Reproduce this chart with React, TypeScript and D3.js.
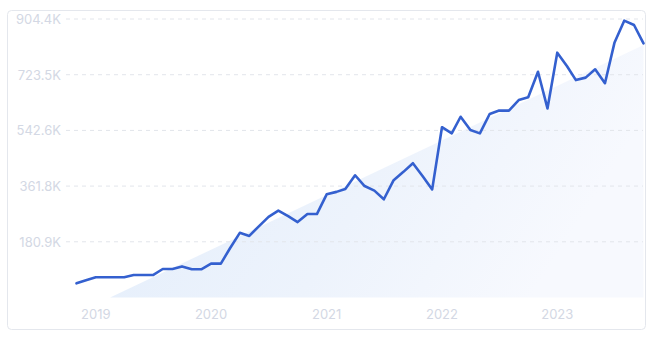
import React from "react";
import * as d3 from "d3";

// Monthly values, Nov 2018 .. Oct 2023
const startMonth = new Date(2018, 10, 1);
const values: number[] = [
  46000, 56000, 65600, 65600, 65600, 65600, 73000, 73000, 73000, 92500,
  92500, 101000, 91500, 91500, 110000, 110000, 160000, 210000, 200000, 232000,
  262000, 282000, 264000, 245000, 271000, 271000, 335000, 343000, 352000, 397000,
  362000, 347000, 319000, 381000, 408000, 436000, 394000, 351000, 553000, 533000,
  587000, 544000, 533000, 596000, 607000, 607000, 641000, 650000, 733000, 614000,
  795000, 751000, 706000, 714000, 741000, 696000, 827000, 899000, 885000, 825000,
];
const yTicks: number[] = [180900, 361800, 542600, 723500, 904400];
const yTickLabels: string[] = ["180.9K", "361.8K", "542.6K", "723.5K", "904.4K"];
const xTickYears: number[] = [2019, 2020, 2021, 2022, 2023];
// decorative trend band: (month index, value)
const trendIdx: number[] = [3.5, 59];
const trendVal: number[] = [0, 820000];

const W = 658;
const H = 338;

export default function App() {
  const dates = values.map((_, i) => d3.timeMonth.offset(startMonth, i));
  const x = d3
    .scaleTime()
    .domain([dates[0], dates[dates.length - 1]])
    .range([76.5, 643.5]);
  const xi = d3.scaleLinear().domain([0, values.length - 1]).range(x.range());
  const y = d3.scaleLinear().domain([0, 904400]).range([297.5, 19]);

  const line = d3
    .line<number>()
    .x((_, i) => x(dates[i]))
    .y((d) => y(d))
    .curve(d3.curveLinear);

  const tx0 = xi(trendIdx[0]);
  const tx1 = xi(trendIdx[1]);
  const trianglePath = `M${tx0},${y(trendVal[0])}L${tx1},${y(trendVal[1])}L${tx1},${y(0)}Z`;

  const font = "Inter, 'Noto Sans', sans-serif";

  return (
    <svg
      width={W}
      height={H}
      style={{ position: "absolute", left: 0, top: 0, background: "#fff" }}
    >
      <defs>
        <linearGradient id="tri" x1="0" y1="0" x2="1" y2="0.3">
          <stop offset="0%" stopColor="#e2edfb" />
          <stop offset="60%" stopColor="#edf3fc" />
          <stop offset="100%" stopColor="#f7f9fe" />
        </linearGradient>
      </defs>
      <rect
        x={7.5}
        y={10.5}
        width={638}
        height={319}
        rx={4}
        fill="#fff"
        stroke="#e4e7ed"
      />
      <path d={trianglePath} fill="url(#tri)" />
      {yTicks.map((t, i) => (
        <g key={t}>
          <line
            x1={66}
            x2={643}
            y1={y(t)}
            y2={y(t)}
            stroke="#e2e5eb"
            strokeDasharray="4 4"
          />
          <text
            x={61}
            y={y(t)}
            textAnchor="end"
            dominantBaseline="central"
            fontFamily={font}
            fontSize={13}
            fill="#d3d8e4"
          >
            {yTickLabels[i]}
          </text>
        </g>
      ))}
      {xTickYears.map((yr) => (
        <text
          key={yr}
          x={x(new Date(yr, 0, 1))}
          y={314}
          textAnchor="middle"
          dominantBaseline="central"
          fontFamily={font}
          fontSize={13}
          fill="#d3d8e4"
        >
          {yr}
        </text>
      ))}
      <path
        d={line(values) || ""}
        fill="none"
        stroke="#3460cf"
        strokeWidth={2.6}
        strokeLinejoin="round"
        strokeLinecap="round"
      />
    </svg>
  );
}
